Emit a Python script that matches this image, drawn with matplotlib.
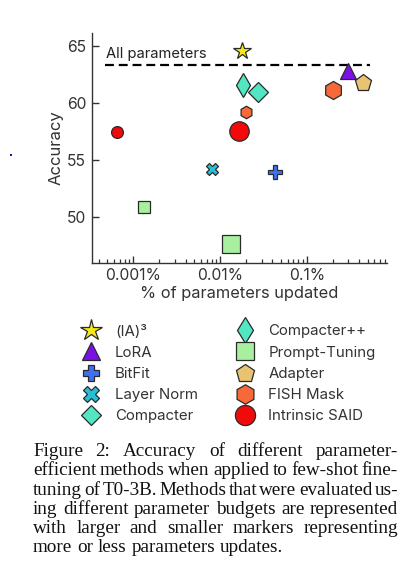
import matplotlib
matplotlib.use("Agg")
import matplotlib.pyplot as plt
from matplotlib.lines import Line2D
from matplotlib.patches import Rectangle
import numpy as np

W, H = 403, 575
DPI = 100

methods = ["(IA)³", "LoRA", "BitFit", "Layer Norm", "Compacter",
           "Compacter++", "Prompt-Tuning", "Adapter", "FISH Mask", "Intrinsic SAID"]
markers = ["*", "^", "P", "X", "D", "d", "s", "p", "h", "o"]
colors = ["#F7E81A", "#7A12E6", "#3F6FF2", "#27BFD8", "#52E6C2",
          "#52E6C2", "#A8F0A0", "#E9C272", "#F8693A", "#F20A0A"]
legend_sizes = [16, 12.5, 12, 11.5, 10.5, 13.5, 13.5, 13.5, 14, 14.5]

# points: method index, % params updated, accuracy, marker size (pt)
pt_method = [0, 1, 2, 3, 4, 5, 6, 6, 7, 8, 8, 9, 9]
pt_pct = [0.018, 0.30, 0.043, 0.008, 0.027, 0.0186, 0.00134, 0.0134, 0.44, 0.20, 0.020, 0.0166, 0.00065]
pt_acc = [64.6, 62.8, 54.0, 54.25, 61.0, 61.6, 50.85, 47.65, 61.8, 61.15, 59.25, 57.55, 57.45]
pt_size = [13, 11.5, 10, 9, 10.5, 12.5, 9, 13.5, 12.5, 13, 9, 14, 8.5]

all_params_acc = 63.35
all_params_range = [0.00047, 0.54]
xticks = [0.001, 0.01, 0.1]
xticklabels = ["0.001%", "0.01%", "0.1%"]
yticks = [50, 55, 60, 65]

caption_lines = [
    "Figure 2:  Accuracy of different parameter-",
    "efficient methods when applied to few-shot fine-",
    "tuning of T0-3B. Methods that were evaluated us-",
    "ing different parameter budgets are represented",
    "with larger and smaller markers representing",
    "more or less parameters updates.",
]

plt.rcParams['font.family'] = ['Inter', 'DejaVu Sans']
fig = plt.figure(figsize=(W / DPI, H / DPI), dpi=DPI)

def fx(px):
    return px / W

def fy(py):
    return 1 - py / H

ax_l, ax_r, ax_t, ax_b = 91.7, 386.7, 32.7, 262.7
ax = fig.add_axes([fx(ax_l), fy(ax_b), fx(ax_r - ax_l), (ax_b - ax_t) / H])
ax.set_xscale('log')
ax.set_xlim(10 ** -3.48, 10 ** -0.08)
ax.set_ylim(46.0, 66.2)

ax.hlines(all_params_acc, all_params_range[0], all_params_range[1],
          colors='black', linestyles=(0, (4, 2.2)), linewidth=1.6, zorder=1)
ax.text(all_params_range[0] * 1.02, all_params_acc + 0.35, "All parameters",
        fontsize=10.6, color='#222222', ha='left', va='bottom')

for m, x, y, s in zip(pt_method, pt_pct, pt_acc, pt_size):
    ax.plot([x], [y], linestyle='none', marker=markers[m], markersize=s,
            markerfacecolor=colors[m], markeredgecolor='#2a2a2a',
            markeredgewidth=0.9, zorder=3)

for side in ['top', 'right']:
    ax.spines[side].set_visible(False)
for side in ['left', 'bottom']:
    ax.spines[side].set_color('#333333')
    ax.spines[side].set_linewidth(1.0)

ax.set_xticks(xticks)
ax.set_xticklabels(xticklabels)
ax.set_yticks(yticks)
ax.tick_params(axis='both', which='major', direction='in', length=5, width=1,
               color='#333333', labelsize=11.3, labelcolor='#333333', pad=4)
ax.tick_params(axis='x', which='minor', direction='in', length=3, width=0.9, color='#333333')
ax.tick_params(axis='y', which='minor', left=False)
ax.set_xlabel("% of parameters updated", fontsize=11.8, color='#333333', labelpad=2)
ax.set_ylabel("Accuracy", fontsize=12, color='#333333', labelpad=2)

# legend
handles = [Line2D([], [], linestyle='none', marker=markers[i], markersize=legend_sizes[i],
                  markerfacecolor=colors[i], markeredgecolor='#2a2a2a', markeredgewidth=0.9)
           for i in range(len(methods))]
fig.legend(handles, methods, loc='upper left', bbox_to_anchor=(fx(79), fy(324.5)),
           ncol=2, frameon=False, fontsize=10.8, labelspacing=0.48,
           handletextpad=0.8, columnspacing=2.3, handlelength=1.6,
           labelcolor='#333333', borderaxespad=0, borderpad=0)

# stray dot
fig.add_artist(Rectangle((fx(10), fy(156)), 2 / W, 2 / H, transform=fig.transFigure,
                         facecolor='#1a1aa0', edgecolor='none'))

# justified caption
fig.canvas.draw()
renderer = fig.canvas.get_renderer()
cap_left, cap_right = 33.0, 398.0
base0, line_gap = 456.0, 19.3
cap_font = dict(family=['Liberation Serif', 'DejaVu Serif'], size=13.8, color='#111111')
tmp1 = fig.text(0, 0, "a b", **cap_font)
tmp2 = fig.text(0, 0, "ab", **cap_font)
space_w = tmp1.get_window_extent(renderer).width - tmp2.get_window_extent(renderer).width
tmp1.remove()
tmp2.remove()
for li, line in enumerate(caption_lines):
    y = fy(base0 + li * line_gap)
    words = line.split()
    texts = [fig.text(0, y, w, ha='left', va='baseline', **cap_font) for w in words]
    widths = [t.get_window_extent(renderer).width for t in texts]
    if li == len(caption_lines) - 1:
        g = space_w
    else:
        g = (cap_right - cap_left - sum(widths)) / (len(words) - 1)
    xpos = cap_left
    for i, t in enumerate(texts):
        t.set_x(fx(xpos))
        xpos += widths[i] + g

fig.savefig("out.png", dpi=DPI)
